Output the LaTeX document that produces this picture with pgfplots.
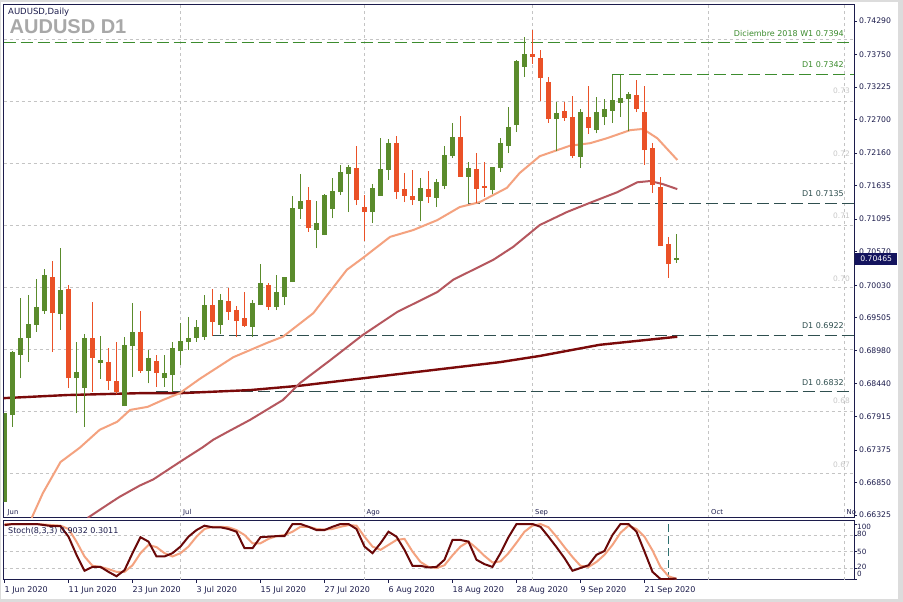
\documentclass[border=0pt]{standalone}
\usepackage{fontspec}
\setmainfont{DejaVu Sans}
\newfontfamily\titlefont{Liberation Sans}
\usepackage{pgfplots}
\pgfplotsset{compat=1.18}
\usepackage{pgfplotstable}

\definecolor{bggray}{HTML}{DCDCDC}
\definecolor{axisc}{HTML}{1C1C4C}
\definecolor{labc}{HTML}{1C1C4C}
\definecolor{gridc}{HTML}{C4C4C4}
\definecolor{cgreen}{HTML}{5A8B2C}
\definecolor{cred}{HTML}{EA5127}
\definecolor{mafast}{HTML}{F4A27F}
\definecolor{mamid}{HTML}{B5575E}
\definecolor{maslow}{HTML}{7B0A0A}
\definecolor{stoK}{HTML}{6A0808}
\definecolor{stoD}{HTML}{F4A27F}
\definecolor{lgreen}{HTML}{3C8C2E}
\definecolor{ldark}{HTML}{2F4F4F}
\definecolor{fadec}{HTML}{C8C8C8}
\definecolor{titleg}{HTML}{A8A8A8}
\definecolor{curbox}{HTML}{14145E}
\definecolor{vlinec}{HTML}{2E7070}

% daily candles, bar index from 1 Jun 2020
\pgfplotstableread{
i o h l c
0 0.6654 0.6797 0.6654 0.6797
1 0.6794 0.6897 0.6775 0.6895
2 0.6891 0.6982 0.6853 0.6918
3 0.6918 0.6987 0.6879 0.6941
4 0.6939 0.7013 0.6928 0.6968
5 0.6961 0.7029 0.6957 0.7020
7 0.6957 0.7063 0.6931 0.6995
9 0.6853 0.6912 0.6797 0.6863
10 0.6837 0.6924 0.6775 0.6918
12 0.6878 0.6921 0.6852 0.6882
15 0.6808 0.6920 0.6808 0.6907
16 0.6905 0.6974 0.6855 0.6928
18 0.6865 0.6899 0.6845 0.6886
20 0.6853 0.6891 0.6839 0.6862
21 0.6858 0.6912 0.6831 0.6902
22 0.6897 0.6942 0.6874 0.6913
23 0.6912 0.6952 0.6899 0.6918
24 0.6918 0.6947 0.6912 0.6936
25 0.6920 0.6987 0.6915 0.6971
27 0.6939 0.6989 0.6924 0.6979
31 0.6936 0.6979 0.6920 0.6974
32 0.6971 0.7037 0.6971 0.7007
34 0.6968 0.7020 0.6963 0.6992
35 0.6984 0.7016 0.6971 0.7016
36 0.7008 0.7147 0.7008 0.7128
37 0.7126 0.7182 0.7110 0.7139
39 0.7092 0.7139 0.7063 0.7103
40 0.7084 0.7150 0.7084 0.7149
41 0.7126 0.7176 0.7111 0.7155
42 0.7153 0.7197 0.7149 0.7186
43 0.7182 0.7197 0.7121 0.7194
46 0.7121 0.7166 0.7103 0.7160
47 0.7147 0.7240 0.7147 0.7190
48 0.7189 0.7239 0.7173 0.7232
52 0.7139 0.7176 0.7107 0.7160
54 0.7144 0.7174 0.7129 0.7169
55 0.7163 0.7228 0.7158 0.7213
56 0.7211 0.7265 0.7208 0.7242
58 0.7178 0.7202 0.7136 0.7192
61 0.7157 0.7194 0.7150 0.7194
62 0.7192 0.7240 0.7186 0.7232
63 0.7228 0.7290 0.7216 0.7258
64 0.7261 0.7366 0.7250 0.7365
65 0.7355 0.7403 0.7339 0.7376
69 0.7271 0.7298 0.7219 0.7281
72 0.7210 0.7287 0.7192 0.7282
74 0.7253 0.7306 0.7248 0.7282
75 0.7274 0.7303 0.7261 0.7287
76 0.7284 0.7342 0.7265 0.7302
77 0.7297 0.7342 0.7274 0.7305
78 0.7303 0.7315 0.7252 0.7311
84 0.7044 0.7086 0.7039 0.7047
}\upbars

\pgfplotstableread{
i o h l c
6 0.7016 0.7042 0.6895 0.6958
8 0.6997 0.7003 0.6837 0.6853
11 0.6918 0.6976 0.6831 0.6886
13 0.6879 0.6902 0.6834 0.6849
14 0.6849 0.6912 0.6828 0.6831
17 0.6928 0.6961 0.6862 0.6865
19 0.6881 0.6891 0.6839 0.6862
26 0.6971 0.6997 0.6921 0.6944
28 0.6978 0.6999 0.6947 0.6960
29 0.6963 0.6970 0.6920 0.6945
30 0.6950 0.6992 0.6936 0.6937
33 0.7003 0.7007 0.6963 0.6968
38 0.7140 0.7161 0.7089 0.7095
44 0.7192 0.7228 0.7132 0.7140
45 0.7129 0.7149 0.7074 0.7121
49 0.7232 0.7244 0.7142 0.7153
50 0.7158 0.7184 0.7137 0.7147
51 0.7147 0.7189 0.7132 0.7140
53 0.7158 0.7187 0.7136 0.7145
57 0.7242 0.7276 0.7178 0.7178
59 0.7190 0.7216 0.7136 0.7158
60 0.7163 0.7202 0.7145 0.7160
66 0.7376 0.7414 0.7360 0.7371
67 0.7369 0.7382 0.7300 0.7337
68 0.7331 0.7339 0.7265 0.7271
70 0.7284 0.7298 0.7268 0.7273
71 0.7274 0.7308 0.7208 0.7211
73 0.7274 0.7324 0.7247 0.7257
79 0.7310 0.7334 0.7282 0.7287
80 0.7282 0.7324 0.7197 0.7221
81 0.7224 0.7232 0.7152 0.7165
82 0.7161 0.7178 0.7066 0.7066
83 0.7070 0.7081 0.7015 0.7037
}\downbars

% moving averages
\pgfplotstableread{
x y
3.4 0.6628
4.8 0.6668
7.0 0.6718
9.4 0.6741
11.9 0.6770
14.1 0.6783
15.7 0.6802
17.9 0.6807
19.8 0.6818
21.9 0.6829
24.4 0.6852
28.6 0.6887
32.8 0.6910
34.8 0.6920
38.6 0.6958
42.8 0.7028
44.8 0.7047
48.2 0.7081
51.1 0.7092
54.1 0.7108
56.9 0.7129
59.4 0.7137
62.8 0.7160
64.4 0.7184
66.9 0.7211
70.7 0.7228
73.2 0.7232
75.3 0.7240
78.2 0.7253
79.8 0.7255
81.6 0.7240
84.1 0.7205
}\mafasttab

\pgfplotstableread{
x y
10.4 0.6628
13.2 0.6652
14.4 0.6662
16.9 0.6680
18.6 0.6690
21.9 0.6718
24.8 0.6742
26.1 0.6754
27.8 0.6766
30.7 0.6786
34.8 0.6818
36.9 0.6845
40.7 0.6882
44.8 0.6923
49.1 0.6960
54.1 0.6992
56.1 0.7012
61.1 0.7044
63.6 0.7065
66.9 0.7100
70.3 0.7121
73.2 0.7136
76.6 0.7153
79.1 0.7169
80.7 0.7171
82.3 0.7166
84.1 0.7158
}\mamidtab

\pgfplotstableread{
x y
-0.125 0.6821
7.8 0.6826
16.9 0.6829
21.9 0.6829
30.7 0.6834
36.9 0.6841
49.4 0.6860
61.9 0.6879
66.9 0.6889
74.4 0.6907
84.1 0.6920
}\maslowtab

% Stoch(8,3,3): main and signal
\pgfplotstableread{
i k d
0 98 100
1 100 100
2 100 100
3 100 100
4 100 100
5 98 99
6 96 98
7 96 97
8 77 91
9 44 68
10 15 41
11 22 24
12 22 22
13 13 18
14 5 13
15 16 13
16 47 25
17 76 47
18 68 62
19 41 58
20 41 47
21 47 41
22 59 47
23 77 59
24 89 77
25 97 91
26 94 95
27 94 95
28 91 94
29 86 89
30 56 80
31 56 65
32 76 65
33 77 73
34 78 78
35 78 80
36 100 86
37 100 95
38 95 95
39 89 91
40 89 90
41 95 91
42 100 95
43 100 98
44 91 97
45 59 77
46 47 59
47 65 53
48 86 62
49 77 71
50 53 73
51 24 50
52 24 31
53 21 22
54 22 20
55 35 25
56 71 43
57 71 59
58 68 68
59 35 56
60 27 42
61 22 30
62 47 32
63 76 47
64 100 66
65 100 86
66 100 97
67 95 100
68 77 94
69 58 77
70 38 58
71 15 40
72 20 24
73 25 22
74 44 31
75 51 44
76 80 62
77 100 84
78 100 97
79 86 91
80 50 77
81 13 52
82 0 22
83 0 5
84 0.9 0.3
}\stochtab

\pgfplotsset{
  wick/.style={draw=none, mark=none, forget plot,
    error bars/.cd, y dir=plus, y explicit, error mark=none,
    error bar style={draw=#1, line width=1pt}},
  body/.style={draw=none, mark=none, forget plot,
    error bars/.cd, y dir=plus, y explicit, error mark=none,
    error bar style={draw=#1, line width=5pt}},
  level/.style={line width=1pt, dash pattern=on 12pt off 5pt, forget plot},
}

\begin{document}
\begin{tikzpicture}[x=1pt,y=1pt]
\useasboundingbox (0,0) rectangle (903,602);
\fill[bggray] (0,0) rectangle (903,602);
\fill[white] (1,3) rectangle (898,600);

\begin{axis}[
  name=main,
  at={(3.5pt,84pt)}, anchor=south west,
  scale only axis, width=850.5pt, height=513pt,
  xmin=-0.125, xmax=106.19,
  ymin=0.66278, ymax=0.74548,
  clip mode=individual,
  axis line style={draw=axisc, line width=1pt},
  xtick={22,45,66,88,105}, xticklabels={}, xmajorgrids,
  xtick style={draw=none},
  ytick={0.66325,0.66850,0.67375,0.67915,0.68440,0.68980,0.69505,0.70030,0.70570,0.71095,0.71635,0.72160,0.72700,0.73225,0.73750,0.74290},
  yticklabels={0.66325,0.66850,0.67375,0.67915,0.68440,0.68980,0.69505,0.70030,0.70570,0.71095,0.71635,0.72160,0.72700,0.73225,0.73750,0.74290},
  ytick pos=right, yticklabel pos=right,
  ytick style={draw=axisc, line width=0.8pt},
  tick align=outside, major tick length=3pt,
  yticklabel style={font=\fontsize{7.7}{8}\selectfont, text=labc, inner sep=0pt, xshift=2pt},
  extra y ticks={0.67,0.68,0.69,0.70,0.71,0.72,0.73,0.74},
  extra y tick labels={},
  extra y tick style={grid=major, ytick style={draw=none}},
  grid style={draw=gridc, line width=0.8pt, dash pattern=on 3pt off 3pt},
]
% level lines
\addplot[level, lgreen] coordinates {(-0.125,0.7394) (106.19,0.7394)};
\addplot[level, lgreen] coordinates {(76,0.7342) (106.19,0.7342)};
\addplot[level, ldark] coordinates {(58,0.7135) (106.19,0.7135)};
\addplot[level, ldark] coordinates {(26,0.6922) (106.19,0.6922)};
\addplot[level, ldark] coordinates {(19,0.6832) (106.19,0.6832)};
% moving averages
\addplot[maslow, line width=2.4pt] table[x=x,y=y] {\maslowtab};
\addplot[mamid, line width=2pt] table[x=x,y=y] {\mamidtab};
\addplot[mafast, line width=2pt] table[x=x,y=y] {\mafasttab};
% candles
\addplot[wick=cgreen] table[x=i, y=l, y error expr=\thisrow{h}-\thisrow{l}] {\upbars};
\addplot[body=cgreen] table[x=i, y=o, y error expr={max(\thisrow{c}-\thisrow{o},0.00025)}] {\upbars};
\addplot[wick=cred] table[x=i, y=l, y error expr=\thisrow{h}-\thisrow{l}] {\downbars};
\addplot[body=cred] table[x=i, y=c, y error expr={max(\thisrow{o}-\thisrow{c},0.00025)}] {\downbars};
\end{axis}

\begin{axis}[
  at={(3.5pt,22pt)}, anchor=south west,
  scale only axis, width=850.5pt, height=59pt,
  xmin=-0.125, xmax=106.19, ymin=-1.8, ymax=105.5,
  clip mode=individual,
  axis line style={draw=axisc, line width=1pt},
  xtick={0,8,...,80},
  xticklabels={1 Jun 2020,11 Jun 2020,23 Jun 2020,3 Jul 2020,15 Jul 2020,27 Jul 2020,6 Aug 2020,18 Aug 2020,28 Aug 2020,9 Sep 2020,21 Sep 2020},
  xtick pos=left,
  xtick style={draw=axisc, line width=0.8pt},
  xticklabel style={font=\fontsize{8}{9}\selectfont, text=labc, anchor=north west, inner sep=0pt, yshift=-3.5pt},
  ytick={0,20,50,80,100}, yticklabels={}, ytick pos=right,
  ytick style={draw=axisc, line width=0.8pt},
  tick align=outside, major tick length=3pt,
  extra y ticks={20,50,80}, extra y tick labels={},
  extra y tick style={grid=major, ytick style={draw=none}},
  extra x ticks={22,45,66,88,105}, extra x tick labels={},
  extra x tick style={grid=major, xtick style={draw=none}},
  grid style={draw=gridc, line width=0.8pt, dash pattern=on 3pt off 3pt},
]
\addplot[vlinec, line width=1pt, dash pattern=on 8pt off 4pt, forget plot] coordinates {(83,-1.8) (83,105.5)};
\addplot[stoD, line width=2pt] table[x=i,y=d] {\stochtab};
\addplot[stoK, line width=2pt] table[x=i,y=k] {\stochtab};
\end{axis}

% texts
\node[anchor=base west, inner sep=0pt, text=labc, font=\fontsize{8.5}{10}\selectfont] at (8,587) {AUDUSD,Daily};
\node[anchor=base west, inner sep=0pt, text=titleg, font=\titlefont\bfseries\fontsize{20}{24}\selectfont] at (9.5,568.5) {AUDUSD D1};

\begin{scope}[every node/.style={anchor=base east, inner sep=0pt, font=\fontsize{8}{9}\selectfont}]
\node[text=lgreen] at (844,565.5) {Diciembre 2018 W1 0.7394};
\node[text=lgreen] at (844,534) {D1 0.7342};
\node[text=ldark] at (844,405) {D1 0.7135};
\node[text=ldark] at (844,273) {D1 0.6922};
\node[text=ldark] at (844,216) {D1 0.6832};
\end{scope}

\begin{scope}[every node/.style={anchor=base east, inner sep=0pt, text=fadec, font=\fontsize{7.5}{8}\selectfont}]
\node at (850,508) {0.73};
\node at (850,445) {0.72};
\node at (850,383) {0.71};
\node at (850,320) {0.70};
\node at (850,198) {0.68};
\node at (850,134) {0.67};
\end{scope}

\begin{scope}[every node/.style={anchor=base west, inner sep=0pt, text=labc, font=\fontsize{6.8}{7}\selectfont}]
\node at (7.5,87) {Jun};
\node at (183,87) {Jul};
\node at (366.5,87) {Ago};
\node at (535,87) {Sep};
\node at (711,87) {Oct};
\node at (846.5,87) {No};
\end{scope}

\node[anchor=base west, inner sep=0pt, text=labc, font=\fontsize{8}{9}\selectfont] at (8,68.5) {Stoch(8,3,3) 0.9032 0.3011};

\begin{scope}[every node/.style={anchor=west, inner sep=0pt, text=labc, font=\fontsize{7.2}{8}\selectfont}]
\node at (857,75) {100};
\node at (857,68) {80};
\node at (857,50) {50};
\node at (857,35) {20};
\node at (857,28.5) {0};
\end{scope}

\node[fill=curbox, text=white, anchor=west, minimum width=42pt, minimum height=12.5pt, inner sep=0pt, font=\fontsize{7.7}{8}\selectfont] at (855,343) {0.70465};
\end{tikzpicture}
\end{document}
